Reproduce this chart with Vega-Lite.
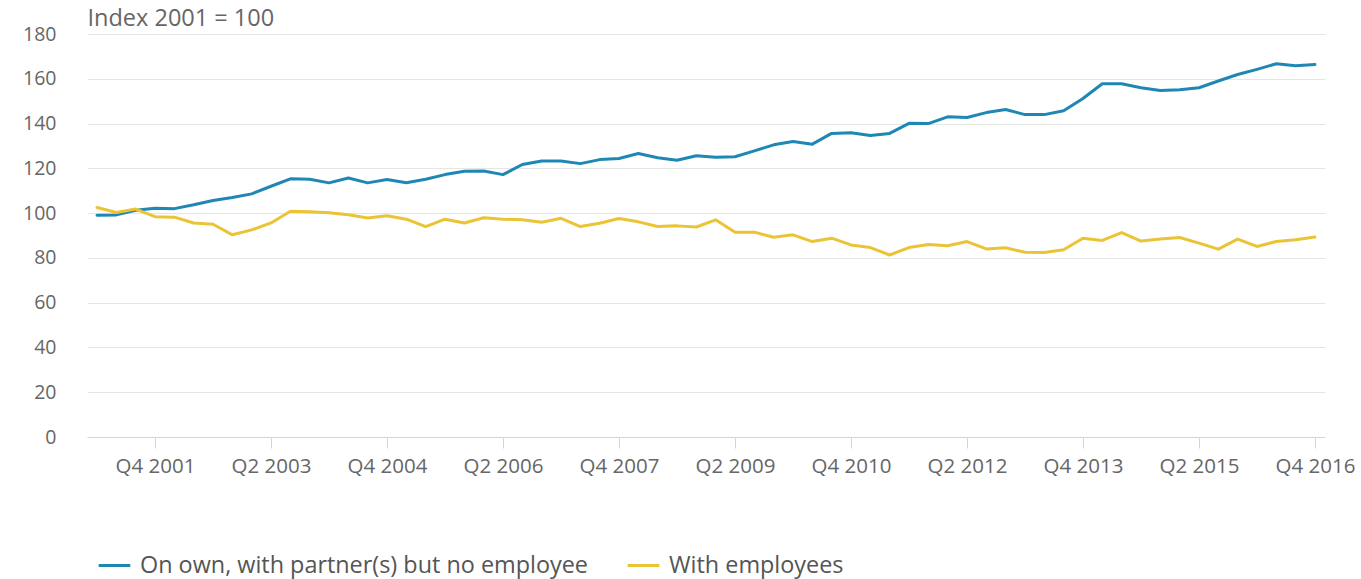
{
  "$schema": "https://vega.github.io/schema/vega-lite/v6.json",
  "autosize": {"type": "none"},
  "width": 1238,
  "height": 403,
  "padding": {"left": 87, "top": 34, "right": 36, "bottom": 142},
  "background": "white",
  "config": {
    "font": "Open Sans",
    "view": {"stroke": null}
  },
  "data": {
    "values": [
      {"quarter": "Q1 2001", "own": 99.1, "emp": 102.5},
      {"quarter": "Q2 2001", "own": 99.2, "emp": 100.3},
      {"quarter": "Q3 2001", "own": 101.3, "emp": 101.8},
      {"quarter": "Q4 2001", "own": 102.2, "emp": 98.4},
      {"quarter": "Q1 2002", "own": 102.0, "emp": 98.2},
      {"quarter": "Q2 2002", "own": 103.7, "emp": 95.6},
      {"quarter": "Q3 2002", "own": 105.6, "emp": 95.0},
      {"quarter": "Q4 2002", "own": 107.0, "emp": 90.3},
      {"quarter": "Q1 2003", "own": 108.6, "emp": 92.5},
      {"quarter": "Q2 2003", "own": 112.0, "emp": 95.6},
      {"quarter": "Q3 2003", "own": 115.3, "emp": 100.8},
      {"quarter": "Q4 2003", "own": 115.1, "emp": 100.6},
      {"quarter": "Q1 2004", "own": 113.5, "emp": 100.2},
      {"quarter": "Q2 2004", "own": 115.7, "emp": 99.3},
      {"quarter": "Q3 2004", "own": 113.5, "emp": 97.8},
      {"quarter": "Q4 2004", "own": 115.0, "emp": 98.8},
      {"quarter": "Q1 2005", "own": 113.6, "emp": 97.3},
      {"quarter": "Q2 2005", "own": 115.1, "emp": 94.0},
      {"quarter": "Q3 2005", "own": 117.2, "emp": 97.3},
      {"quarter": "Q4 2005", "own": 118.7, "emp": 95.6},
      {"quarter": "Q1 2006", "own": 118.8, "emp": 97.9},
      {"quarter": "Q2 2006", "own": 117.2, "emp": 97.3},
      {"quarter": "Q3 2006", "own": 121.7, "emp": 97.0},
      {"quarter": "Q4 2006", "own": 123.3, "emp": 95.9},
      {"quarter": "Q1 2007", "own": 123.3, "emp": 97.7},
      {"quarter": "Q2 2007", "own": 122.1, "emp": 94.0},
      {"quarter": "Q3 2007", "own": 123.9, "emp": 95.5},
      {"quarter": "Q4 2007", "own": 124.4, "emp": 97.6},
      {"quarter": "Q1 2008", "own": 126.6, "emp": 96.1},
      {"quarter": "Q2 2008", "own": 124.7, "emp": 94.0},
      {"quarter": "Q3 2008", "own": 123.6, "emp": 94.3},
      {"quarter": "Q4 2008", "own": 125.6, "emp": 93.8},
      {"quarter": "Q1 2009", "own": 125.0, "emp": 97.0},
      {"quarter": "Q2 2009", "own": 125.2, "emp": 91.5},
      {"quarter": "Q3 2009", "own": 127.8, "emp": 91.5},
      {"quarter": "Q4 2009", "own": 130.5, "emp": 89.2},
      {"quarter": "Q1 2010", "own": 132.0, "emp": 90.3},
      {"quarter": "Q2 2010", "own": 130.8, "emp": 87.3},
      {"quarter": "Q3 2010", "own": 135.6, "emp": 88.8},
      {"quarter": "Q4 2010", "own": 135.9, "emp": 85.8},
      {"quarter": "Q1 2011", "own": 134.7, "emp": 84.6},
      {"quarter": "Q2 2011", "own": 135.6, "emp": 81.3},
      {"quarter": "Q3 2011", "own": 140.1, "emp": 84.6},
      {"quarter": "Q4 2011", "own": 140.0, "emp": 86.0},
      {"quarter": "Q1 2012", "own": 143.0, "emp": 85.4},
      {"quarter": "Q2 2012", "own": 142.7, "emp": 87.3},
      {"quarter": "Q3 2012", "own": 144.9, "emp": 84.0},
      {"quarter": "Q4 2012", "own": 146.3, "emp": 84.5},
      {"quarter": "Q1 2013", "own": 144.0, "emp": 82.5},
      {"quarter": "Q2 2013", "own": 144.0, "emp": 82.4},
      {"quarter": "Q3 2013", "own": 145.7, "emp": 83.6},
      {"quarter": "Q4 2013", "own": 151.2, "emp": 88.8},
      {"quarter": "Q1 2014", "own": 157.8, "emp": 87.8},
      {"quarter": "Q2 2014", "own": 157.8, "emp": 91.3},
      {"quarter": "Q3 2014", "own": 156.0, "emp": 87.5},
      {"quarter": "Q4 2014", "own": 154.8, "emp": 88.4},
      {"quarter": "Q1 2015", "own": 155.1, "emp": 89.1},
      {"quarter": "Q2 2015", "own": 156.0, "emp": 86.6},
      {"quarter": "Q3 2015", "own": 159.0, "emp": 83.9},
      {"quarter": "Q4 2015", "own": 161.9, "emp": 88.4},
      {"quarter": "Q1 2016", "own": 164.2, "emp": 85.1},
      {"quarter": "Q2 2016", "own": 166.7, "emp": 87.3},
      {"quarter": "Q3 2016", "own": 165.8, "emp": 88.1},
      {"quarter": "Q4 2016", "own": 166.4, "emp": 89.3}
    ]
  },
  "transform": [
    {"fold": ["own", "emp"], "as": ["series", "value"]}
  ],
  "mark": {"type": "line", "strokeWidth": 3, "strokeJoin": "round", "strokeCap": "round"},
  "encoding": {
    "x": {
      "field": "quarter",
      "type": "ordinal",
      "sort": null,
      "scale": {"type": "point", "padding": 0.52},
      "axis": {
        "title": null,
        "values": ["Q4 2001", "Q2 2003", "Q4 2004", "Q2 2006", "Q4 2007", "Q2 2009", "Q4 2010", "Q2 2012", "Q4 2013", "Q2 2015", "Q4 2016"],
        "labelAngle": 0,
        "labelFontSize": 20.5,
        "labelColor": "#666666",
        "labelPadding": 8,
        "domainColor": "#ccd6eb",
        "domainWidth": 1,
        "tickColor": "#ccd6eb",
        "tickSize": 11,
        "tickWidth": 1,
        "grid": false
      }
    },
    "y": {
      "field": "value",
      "type": "quantitative",
      "scale": {"domain": [0, 180], "nice": false, "zero": true},
      "axis": {
        "values": [0, 20, 40, 60, 80, 100, 120, 140, 160, 180],
        "title": "Index 2001 = 100",
        "titleAngle": 0,
        "titleAlign": "left",
        "titleBaseline": "middle",
        "titleX": 0,
        "titleY": -16,
        "titleFontSize": 23.5,
        "titleFontWeight": "normal",
        "titleColor": "#666666",
        "labelFontSize": 19.5,
        "labelColor": "#666666",
        "labelPadding": 31,
        "domain": false,
        "ticks": false,
        "grid": true,
        "gridColor": "#e6e6e6",
        "gridWidth": 1
      }
    },
    "color": {
      "field": "series",
      "type": "nominal",
      "scale": {"domain": ["own", "emp"], "range": ["#1f87b4", "#eac435"]},
      "legend": {
        "title": null,
        "orient": "none",
        "direction": "horizontal",
        "legendX": 10,
        "legendY": 514,
        "symbolType": "stroke",
        "symbolSize": 1000,
        "symbolStrokeWidth": 3,
        "labelFontSize": 23.4,
        "labelOffset": 8,
        "labelColor": "#555555",
        "labelExpr": "datum.value == 'own' ? 'On own, with partner(s) but no employee' : 'With employees'",
        "columnPadding": 33,
        "padding": 0,
        "labelLimit": 700
      }
    }
  }
}
